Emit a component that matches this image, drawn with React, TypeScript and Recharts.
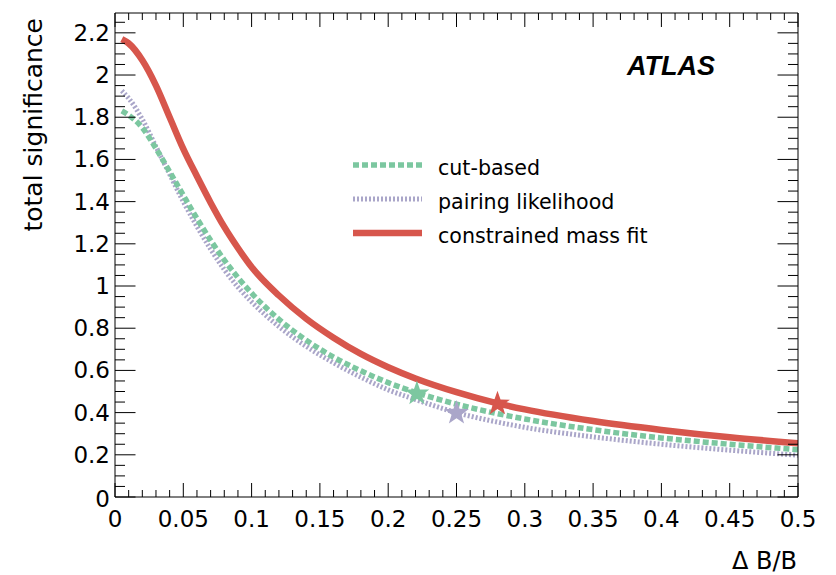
import React from 'react';
import { ComposedChart, Line, Scatter, XAxis, YAxis, Legend, Customized } from 'recharts';

// ---- data ----
const deltaB = [0.005, 0.01, 0.02, 0.03, 0.04, 0.05, 0.06, 0.07, 0.08, 0.09, 0.10, 0.12, 0.14, 0.16, 0.18, 0.20, 0.22, 0.25, 0.28, 0.30, 0.35, 0.40, 0.45, 0.50];
const cutBased = [1.83, 1.81, 1.75, 1.652, 1.542, 1.43, 1.32, 1.217, 1.123, 1.04, 0.966, 0.842, 0.743, 0.663, 0.598, 0.542, 0.496, 0.44, 0.395, 0.37, 0.319, 0.28, 0.25, 0.224];
const pairingLikelihood = [1.925, 1.89, 1.79, 1.66, 1.53, 1.40, 1.283, 1.175, 1.078, 0.995, 0.925, 0.808, 0.714, 0.636, 0.568, 0.508, 0.462, 0.40, 0.355, 0.33, 0.285, 0.25, 0.222, 0.198];
const constrainedMassFit = [2.17, 2.15, 2.07, 1.95, 1.80, 1.65, 1.52, 1.395, 1.28, 1.18, 1.09, 0.955, 0.845, 0.755, 0.678, 0.615, 0.562, 0.497, 0.444, 0.415, 0.36, 0.318, 0.283, 0.255];

const starCut = [{ x: 0.221, y: 0.49 }];
const starPair = [{ x: 0.25, y: 0.398 }];
const starCmf = [{ x: 0.28, y: 0.442 }];

const xMajor = [0, 0.05, 0.1, 0.15, 0.2, 0.25, 0.3, 0.35, 0.4, 0.45, 0.5];
const xMajorLabels = ['0', '0.05', '0.1', '0.15', '0.2', '0.25', '0.3', '0.35', '0.4', '0.45', '0.5'];
const yMajor = [0, 0.2, 0.4, 0.6, 0.8, 1, 1.2, 1.4, 1.6, 1.8, 2, 2.2];
const yMajorLabels = ['0', '0.2', '0.4', '0.6', '0.8', '1', '1.2', '1.4', '1.6', '1.8', '2', '2.2'];

const seriesNames = ['cut-based', 'pairing likelihood', 'constrained mass fit'];
const COL_CUT = '#7cc7a0';
const COL_PAIR = '#aaa6c9';
const COL_CMF = '#d7564c';

const X_DOMAIN: [number, number] = [0, 0.5];
const Y_DOMAIN: [number, number] = [0, 2.294];

const tableData = deltaB.map((x, i) => ({
  x,
  cut: cutBased[i],
  pair: pairingLikelihood[i],
  cmf: constrainedMassFit[i],
}));

// minor ticks: x every 0.01, y every 0.05
const xTicksAll: number[] = [];
for (let i = 0; i <= 50; i++) xTicksAll.push(Math.round(i) / 100);
const yTicksAll: number[] = [];
for (let i = 0; i <= 45; i++) yTicksAll.push(Math.round(i * 5) / 100);

const findIdx = (arr: number[], v: number) => arr.findIndex((m) => Math.abs(m - v) < 1e-6);

const TICK_FONT = 'DejaVu Sans';

const XTickBottom = (props: any) => {
  const { x, y, payload } = props;
  const idx = findIdx(xMajor, payload.value);
  const major = idx >= 0;
  return (
    <g>
      <line x1={x} x2={x} y1={y} y2={y - (major ? 14 : 7)} stroke="#000" strokeWidth={1} />
      {major && (
        <text x={x} y={y + 30} textAnchor="middle" fontFamily={TICK_FONT} fontSize={23} fill="#000">
          {xMajorLabels[idx]}
        </text>
      )}
    </g>
  );
};

const XTickTop = (props: any) => {
  const { x, y, payload } = props;
  const major = findIdx(xMajor, payload.value) >= 0;
  return <line x1={x} x2={x} y1={y} y2={y + (major ? 14 : 7)} stroke="#000" strokeWidth={1} />;
};

const YTickLeft = (props: any) => {
  const { x, y, payload } = props;
  const idx = findIdx(yMajor, payload.value);
  const major = idx >= 0;
  return (
    <g>
      <line x1={x} x2={x + (major ? 20.5 : 10)} y1={y} y2={y} stroke="#000" strokeWidth={1} />
      {major && (
        <text x={x - 5} y={y + (idx === 0 ? 10 : 8)} textAnchor="end" fontFamily={TICK_FONT} fontSize={23} fill="#000">
          {yMajorLabels[idx]}
        </text>
      )}
    </g>
  );
};

const YTickRight = (props: any) => {
  const { x, y, payload } = props;
  const major = findIdx(yMajor, payload.value) >= 0;
  return <line x1={x} x2={x - (major ? 20.5 : 10)} y1={y} y2={y} stroke="#000" strokeWidth={1} />;
};

const Star = (props: any) => {
  const { cx, cy, fill } = props;
  if (cx == null || cy == null) return null;
  const R = 13;
  const r = 5.2;
  const pts: string[] = [];
  for (let k = 0; k < 10; k++) {
    const ang = -Math.PI / 2 + (k * Math.PI) / 5;
    const rad = k % 2 === 0 ? R : r;
    pts.push(`${cx + rad * Math.cos(ang)},${cy + rad * Math.sin(ang)}`);
  }
  return <polygon points={pts.join(' ')} fill={fill} stroke="none" />;
};

const LegendBox = () => {
  const items = [
    { name: seriesNames[0], color: COL_CUT, dash: '6 3', w: 5.5 },
    { name: seriesNames[1], color: COL_PAIR, dash: '2 2', w: 5 },
    { name: seriesNames[2], color: COL_CMF, dash: undefined, w: 6.5 },
  ];
  return (
    <svg width={340} height={110} style={{ display: 'block' }}>
      {items.map((it, i) => {
        const ly = 20 + i * 34;
        return (
          <g key={it.name}>
            <line x1={13} x2={82} y1={ly} y2={ly} stroke={it.color} strokeWidth={it.w} strokeDasharray={it.dash} />
            <text x={98} y={ly + 9.5} fontFamily={TICK_FONT} fontSize={20.6} fill="#000">
              {it.name}
            </text>
          </g>
        );
      })}
    </svg>
  );
};

const Texts = () => (
  <g>
    <text x={715} y={75} textAnchor="end" fontFamily="Liberation Sans" fontWeight="bold" fontStyle="italic" fontSize={27} fill="#000">
      ATLAS
    </text>
    <text x={797} y={569} textAnchor="end" fontFamily={TICK_FONT} fontSize={24} fill="#000">
      Δ B/B
    </text>
    <text
      x={0}
      y={0}
      transform="translate(42,18) rotate(-90)"
      textAnchor="end"
      fontFamily={TICK_FONT}
      fontSize={25}
      fill="#000"
    >
      total significance
    </text>
  </g>
);

export default function App() {
  return (
    <div style={{ position: 'absolute', left: 0, top: 0, width: 836, height: 575, background: '#fff' }}>
      <ComposedChart
        width={836}
        height={575}
        data={tableData}
        margin={{ top: 0, right: 0, bottom: 0, left: 0 }}
      >
        <XAxis
          xAxisId="b"
          dataKey="x"
          type="number"
          domain={X_DOMAIN}
          allowDataOverflow
          ticks={xTicksAll}
          interval={0}
          orientation="bottom"
          height={78}
          tickSize={0}
          tickMargin={0}
          tickLine={false}
          axisLine={{ stroke: '#000', strokeWidth: 1 }}
          tick={<XTickBottom />}
        />
        <XAxis
          xAxisId="t"
          dataKey="x"
          type="number"
          domain={X_DOMAIN}
          allowDataOverflow
          ticks={xTicksAll}
          interval={0}
          orientation="top"
          height={13}
          tickSize={0}
          tickMargin={0}
          tickLine={false}
          axisLine={{ stroke: '#000', strokeWidth: 1 }}
          tick={<XTickTop />}
        />
        <YAxis
          yAxisId="l"
          type="number"
          domain={Y_DOMAIN}
          allowDataOverflow
          ticks={yTicksAll}
          interval={0}
          orientation="left"
          width={115}
          tickSize={0}
          tickMargin={0}
          tickLine={false}
          axisLine={{ stroke: '#000', strokeWidth: 1 }}
          tick={<YTickLeft />}
        />
        <YAxis
          yAxisId="r"
          type="number"
          domain={Y_DOMAIN}
          allowDataOverflow
          ticks={yTicksAll}
          interval={0}
          orientation="right"
          width={38}
          tickSize={0}
          tickMargin={0}
          tickLine={false}
          axisLine={{ stroke: '#000', strokeWidth: 1 }}
          tick={<YTickRight />}
        />
        <Line xAxisId="b" yAxisId="l" dataKey="pair" name={seriesNames[1]} type="monotone" stroke={COL_PAIR} strokeWidth={5} strokeDasharray="2 2" dot={false} activeDot={false} isAnimationActive={false} />
        <Line xAxisId="b" yAxisId="l" dataKey="cut" name={seriesNames[0]} type="monotone" stroke={COL_CUT} strokeWidth={5.5} strokeDasharray="6 3" dot={false} activeDot={false} isAnimationActive={false} />
        <Line xAxisId="b" yAxisId="l" dataKey="cmf" name={seriesNames[2]} type="monotone" stroke={COL_CMF} strokeWidth={6.5} dot={false} activeDot={false} isAnimationActive={false} />
        <Scatter xAxisId="b" yAxisId="l" data={starCut} dataKey="y" fill={COL_CUT} shape={(p: any) => <Star {...p} />} isAnimationActive={false} />
        <Scatter xAxisId="b" yAxisId="l" data={starPair} dataKey="y" fill={COL_PAIR} shape={(p: any) => <Star {...p} />} isAnimationActive={false} />
        <Scatter xAxisId="b" yAxisId="l" data={starCmf} dataKey="y" fill={COL_CMF} shape={(p: any) => <Star {...p} />} isAnimationActive={false} />
        <Legend
          layout="vertical"
          align="center"
          verticalAlign="middle"
          content={() => <LegendBox />}
          wrapperStyle={{ position: 'absolute', left: 340, top: 145, width: 340, height: 110 }}
        />
        <Customized component={Texts} />
      </ComposedChart>
    </div>
  );
}
